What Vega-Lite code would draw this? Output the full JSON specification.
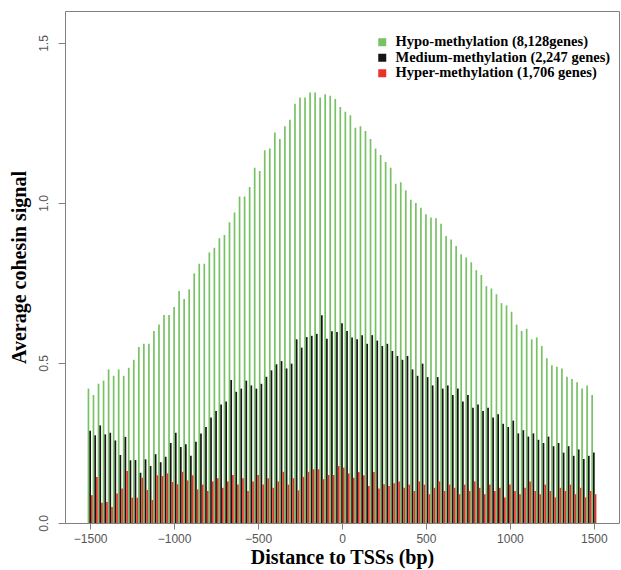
{
  "$schema": "https://vega.github.io/schema/vega-lite/v6.json",
  "width": 554,
  "height": 512,
  "autosize": {"type": "none"},
  "padding": {"left": 65, "top": 11, "right": 2, "bottom": 47},
  "background": "white",
  "config": {
    "view": {"stroke": "#808080", "strokeWidth": 1},
    "axis": {"grid": false, "domain": false, "tickColor": "#808080", "labelColor": "#555555", "labelFont": "Liberation Sans", "labelFontSize": 12, "titleFont": "Liberation Serif", "titleFontWeight": "bold", "titleFontSize": 20, "titleColor": "black"}
  },
  "data": {"values": [
    {"pos":-1500,"hypo":0.42,"medium":0.288,"hyper":0.087},
    {"pos":-1470,"hypo":0.40,"medium":0.274,"hyper":0.144},
    {"pos":-1440,"hypo":0.435,"medium":0.305,"hyper":0.063},
    {"pos":-1410,"hypo":0.445,"medium":0.277,"hyper":0.066},
    {"pos":-1380,"hypo":0.48,"medium":0.282,"hyper":0.05},
    {"pos":-1350,"hypo":0.46,"medium":0.258,"hyper":0.092},
    {"pos":-1320,"hypo":0.48,"medium":0.2125,"hyper":0.108},
    {"pos":-1290,"hypo":0.46,"medium":0.269,"hyper":0.1625},
    {"pos":-1260,"hypo":0.485,"medium":0.196,"hyper":0.079},
    {"pos":-1230,"hypo":0.51,"medium":0.197,"hyper":0.079},
    {"pos":-1200,"hypo":0.55,"medium":0.157,"hyper":0.1415},
    {"pos":-1170,"hypo":0.56,"medium":0.199,"hyper":0.103},
    {"pos":-1140,"hypo":0.56,"medium":0.178,"hyper":0.072},
    {"pos":-1110,"hypo":0.60,"medium":0.215,"hyper":0.149},
    {"pos":-1080,"hypo":0.62,"medium":0.19,"hyper":0.147},
    {"pos":-1050,"hypo":0.65,"medium":0.207,"hyper":0.155},
    {"pos":-1020,"hypo":0.65,"medium":0.25,"hyper":0.128},
    {"pos":-990,"hypo":0.675,"medium":0.282,"hyper":0.121},
    {"pos":-960,"hypo":0.725,"medium":0.2375,"hyper":0.16},
    {"pos":-930,"hypo":0.70,"medium":0.246,"hyper":0.133},
    {"pos":-900,"hypo":0.73,"medium":0.21,"hyper":0.149},
    {"pos":-870,"hypo":0.78,"medium":0.254,"hyper":0.105},
    {"pos":-840,"hypo":0.81,"medium":0.28,"hyper":0.12},
    {"pos":-810,"hypo":0.81,"medium":0.30,"hyper":0.10},
    {"pos":-780,"hypo":0.845,"medium":0.33,"hyper":0.13},
    {"pos":-750,"hypo":0.86,"medium":0.35,"hyper":0.14},
    {"pos":-720,"hypo":0.89,"medium":0.37,"hyper":0.11},
    {"pos":-690,"hypo":0.90,"medium":0.38,"hyper":0.13},
    {"pos":-660,"hypo":0.94,"medium":0.447,"hyper":0.15},
    {"pos":-630,"hypo":0.97,"medium":0.41,"hyper":0.12},
    {"pos":-600,"hypo":1.02,"medium":0.42,"hyper":0.14},
    {"pos":-570,"hypo":1.02,"medium":0.445,"hyper":0.10},
    {"pos":-540,"hypo":1.05,"medium":0.43,"hyper":0.13},
    {"pos":-510,"hypo":1.11,"medium":0.42,"hyper":0.15},
    {"pos":-480,"hypo":1.10,"medium":0.435,"hyper":0.12},
    {"pos":-450,"hypo":1.165,"medium":0.457,"hyper":0.14},
    {"pos":-420,"hypo":1.17,"medium":0.477,"hyper":0.11},
    {"pos":-390,"hypo":1.22,"medium":0.496,"hyper":0.13},
    {"pos":-360,"hypo":1.20,"medium":0.506,"hyper":0.16},
    {"pos":-330,"hypo":1.24,"medium":0.483,"hyper":0.12},
    {"pos":-300,"hypo":1.26,"medium":0.498,"hyper":0.14},
    {"pos":-270,"hypo":1.31,"medium":0.574,"hyper":0.102},
    {"pos":-240,"hypo":1.33,"medium":0.548,"hyper":0.144},
    {"pos":-210,"hypo":1.33,"medium":0.581,"hyper":0.16},
    {"pos":-180,"hypo":1.345,"medium":0.585,"hyper":0.168},
    {"pos":-150,"hypo":1.345,"medium":0.591,"hyper":0.168},
    {"pos":-120,"hypo":1.33,"medium":0.649,"hyper":0.137},
    {"pos":-90,"hypo":1.34,"medium":0.576,"hyper":0.15},
    {"pos":-60,"hypo":1.335,"medium":0.599,"hyper":0.15},
    {"pos":-30,"hypo":1.325,"medium":0.597,"hyper":0.178},
    {"pos":0,"hypo":1.30,"medium":0.624,"hyper":0.173},
    {"pos":30,"hypo":1.285,"medium":0.60,"hyper":0.155},
    {"pos":60,"hypo":1.274,"medium":0.58,"hyper":0.1415},
    {"pos":90,"hypo":1.235,"medium":0.574,"hyper":0.159},
    {"pos":120,"hypo":1.24,"medium":0.587,"hyper":0.149},
    {"pos":150,"hypo":1.225,"medium":0.56,"hyper":0.116},
    {"pos":180,"hypo":1.20,"medium":0.587,"hyper":0.159},
    {"pos":210,"hypo":1.17,"medium":0.57,"hyper":0.108},
    {"pos":240,"hypo":1.15,"medium":0.553,"hyper":0.121},
    {"pos":270,"hypo":1.128,"medium":0.56,"hyper":0.116},
    {"pos":300,"hypo":1.11,"medium":0.5375,"hyper":0.124},
    {"pos":330,"hypo":1.06,"medium":0.522,"hyper":0.13},
    {"pos":360,"hypo":1.065,"medium":0.51,"hyper":0.11},
    {"pos":390,"hypo":1.04,"medium":0.522,"hyper":0.12},
    {"pos":420,"hypo":1.01,"medium":0.48,"hyper":0.10},
    {"pos":450,"hypo":1.00,"medium":0.46,"hyper":0.13},
    {"pos":480,"hypo":0.985,"medium":0.498,"hyper":0.12},
    {"pos":510,"hypo":0.965,"medium":0.456,"hyper":0.09},
    {"pos":540,"hypo":0.955,"medium":0.43,"hyper":0.11},
    {"pos":570,"hypo":0.952,"medium":0.456,"hyper":0.13},
    {"pos":600,"hypo":0.935,"medium":0.42,"hyper":0.10},
    {"pos":630,"hypo":0.897,"medium":0.43,"hyper":0.12},
    {"pos":660,"hypo":0.886,"medium":0.40,"hyper":0.11},
    {"pos":690,"hypo":0.866,"medium":0.42,"hyper":0.09},
    {"pos":720,"hypo":0.84,"medium":0.38,"hyper":0.12},
    {"pos":750,"hypo":0.83,"medium":0.40,"hyper":0.10},
    {"pos":780,"hypo":0.815,"medium":0.36,"hyper":0.13},
    {"pos":810,"hypo":0.79,"medium":0.37,"hyper":0.11},
    {"pos":840,"hypo":0.775,"medium":0.35,"hyper":0.09},
    {"pos":870,"hypo":0.74,"medium":0.36,"hyper":0.12},
    {"pos":900,"hypo":0.733,"medium":0.33,"hyper":0.10},
    {"pos":930,"hypo":0.715,"medium":0.34,"hyper":0.11},
    {"pos":960,"hypo":0.687,"medium":0.31,"hyper":0.08},
    {"pos":990,"hypo":0.68,"medium":0.30,"hyper":0.12},
    {"pos":1020,"hypo":0.66,"medium":0.32,"hyper":0.10},
    {"pos":1050,"hypo":0.62,"medium":0.28,"hyper":0.09},
    {"pos":1080,"hypo":0.60,"medium":0.29,"hyper":0.11},
    {"pos":1110,"hypo":0.607,"medium":0.27,"hyper":0.13},
    {"pos":1140,"hypo":0.574,"medium":0.28,"hyper":0.10},
    {"pos":1170,"hypo":0.58,"medium":0.26,"hyper":0.09},
    {"pos":1200,"hypo":0.553,"medium":0.25,"hyper":0.12},
    {"pos":1230,"hypo":0.515,"medium":0.27,"hyper":0.10},
    {"pos":1260,"hypo":0.493,"medium":0.24,"hyper":0.08},
    {"pos":1290,"hypo":0.488,"medium":0.25,"hyper":0.11},
    {"pos":1320,"hypo":0.483,"medium":0.22,"hyper":0.10},
    {"pos":1350,"hypo":0.457,"medium":0.24,"hyper":0.12},
    {"pos":1380,"hypo":0.45,"medium":0.21,"hyper":0.09},
    {"pos":1410,"hypo":0.44,"medium":0.23,"hyper":0.11},
    {"pos":1440,"hypo":0.42,"medium":0.20,"hyper":0.08},
    {"pos":1470,"hypo":0.43,"medium":0.21,"hyper":0.10},
    {"pos":1500,"hypo":0.40,"medium":0.22,"hyper":0.09}
  ]},
  "encoding": {
    "x": {
      "type": "quantitative",
      "scale": {"domain": [-1620, 1620], "nice": false, "zero": false},
      "axis": {"values": [-1500, -1000, -500, 0, 500, 1000, 1500], "format": "d", "tickSize": 6, "labelPadding": 4, "title": "Distance to TSSs (bp)", "titlePadding": 3}
    },
    "y": {
      "type": "quantitative",
      "scale": {"domain": [0, 1.6], "nice": false},
      "axis": {"values": [0, 0.5, 1, 1.5], "format": ".1f", "tickSize": 7, "labelAngle": 270, "labelAlign": "center", "labelBaseline": "bottom", "labelPadding": 8, "title": "Average cohesin signal", "titlePadding": 8}
    }
  },
  "layer": [
    {
      "mark": {"type": "bar", "size": 1.7, "xOffset": -1.7},
      "encoding": {
        "x": {"field": "pos"},
        "y": {"field": "hypo"},
        "color": {"datum": "hypo", "type": "nominal",
          "scale": {"domain": ["hypo", "medium", "hyper"], "range": ["#78c265", "#151515", "#e8332a"]},
          "legend": {"title": null, "orient": "none", "legendX": 310, "legendY": 24, "symbolType": "square", "symbolSize": 64, "symbolStrokeWidth": 0, "labelFont": "Liberation Serif", "labelFontWeight": "bold", "labelFontSize": 14.5, "labelColor": "black", "labelLimit": 400, "rowPadding": 0.5, "labelOffset": 6,
            "labelExpr": "datum.value == 'hypo' ? 'Hypo-methylation (8,128genes)' : datum.value == 'medium' ? 'Medium-methylation (2,247 genes)' : 'Hyper-methylation (1,706 genes)'"}
        }
      }
    },
    {
      "mark": {"type": "bar", "size": 1.7, "xOffset": 0},
      "encoding": {
        "x": {"field": "pos"},
        "y": {"field": "medium"},
        "color": {"datum": "medium", "type": "nominal"}
      }
    },
    {
      "mark": {"type": "bar", "size": 1.7, "xOffset": 1.7},
      "encoding": {
        "x": {"field": "pos"},
        "y": {"field": "hyper"},
        "color": {"datum": "hyper", "type": "nominal"}
      }
    }
  ]
}
